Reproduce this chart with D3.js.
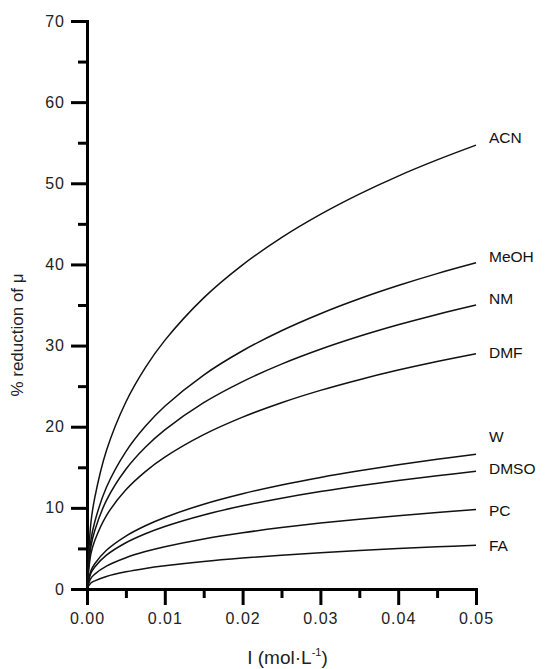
<!DOCTYPE html>
<html lang="en">
<head>
  <meta charset="UTF-8">
  <title>% reduction of mobility vs ionic strength</title>
  <script src="https://d3js.org/d3.v7.min.js"></script>
  <style>
    body {
      margin: 0;
      background: #fff;
      font-family: 'Liberation Sans', Arial, sans-serif;
    }
    .axis path, .axis line {
      stroke: #000;
      stroke-width: 3px;
    }
    .axis text {
      font-size: 16px;
      letter-spacing: 1px;
      fill: #222;
      font-family: 'Liberation Sans', Arial, sans-serif;
    }
    .curve {
      fill: none;
      stroke: #111;
      stroke-width: 1.5px;
    }
    .solvent {
      font-size: 15.5px;
      fill: #111;
    }
  </style>
</head>
<body>
<div id="chart"></div>
<script>
  // ionic strength (mol/L) at which each curve was read
  const ionic = [0, 0.0005, 0.001, 0.0025, 0.005, 0.0075, 0.01, 0.015, 0.02, 0.025, 0.03, 0.035, 0.04, 0.045, 0.05];

  const solvents = ['ACN', 'MeOH', 'NM', 'DMF', 'W', 'DMSO', 'PC', 'FA'];

  const acn  = [0, 8.14, 11.26, 17.07, 23.05, 27.28, 30.64, 35.88, 39.95, 43.31, 46.17, 48.67, 50.89, 52.88, 54.7];
  const meoh = [0, 5.99, 8.28, 12.54, 16.94, 20.05, 22.52, 26.37, 29.36, 31.83, 33.93, 35.77, 37.40, 38.87, 40.2];
  const nm   = [0, 5.21, 7.21, 10.92, 14.75, 17.46, 19.61, 22.96, 25.56, 27.71, 29.54, 31.14, 32.56, 33.84, 35.0];
  const dmf  = [0, 4.32, 5.97, 9.05, 12.22, 14.47, 16.25, 19.02, 21.18, 22.96, 24.48, 25.80, 26.98, 28.04, 29.0];
  const w    = [0, 2.24, 3.11, 4.78, 6.53, 7.80, 8.82, 10.45, 11.74, 12.82, 13.75, 14.57, 15.31, 15.98, 16.6];
  const dmso = [0, 1.95, 2.72, 4.17, 5.70, 6.81, 7.71, 9.13, 10.25, 11.19, 12.01, 12.73, 13.37, 13.96, 14.5];
  const pc   = [0, 1.32, 1.84, 2.82, 3.86, 4.61, 5.21, 6.17, 6.93, 7.57, 8.12, 8.60, 9.04, 9.44, 9.8];
  const fa   = [0, 0.73, 1.01, 1.55, 2.12, 2.54, 2.87, 3.40, 3.82, 4.17, 4.47, 4.74, 4.98, 5.20, 5.4];

  // where each solvent name sits, in % units
  const labelAt = [55.6, 41.0, 35.8, 29.2, 18.8, 14.9, 9.7, 5.4];

  const xTicks = [0, 0.01, 0.02, 0.03, 0.04, 0.05];
  const xMinor = [0.005, 0.015, 0.025, 0.035, 0.045];
  const yTicks = [0, 10, 20, 30, 40, 50, 60, 70];
  const yMinor = [5, 15, 25, 35, 45, 55, 65];

  const series = [acn, meoh, nm, dmf, w, dmso, pc, fa];

  const W = 552, H = 669;
  const margin = { top: 21, right: 76, bottom: 80, left: 87 };
  const width = W - margin.left - margin.right;
  const height = H - margin.top - margin.bottom;

  const x = d3.scaleLinear().domain([0, 0.05]).range([0, width]);
  const y = d3.scaleLinear().domain([0, 70]).range([height, 0]);

  const svg = d3.select('#chart')
    .append('svg')
    .attr('width', W)
    .attr('height', H)
    .append('g')
    .attr('transform', 'translate(' + margin.left + ',' + margin.top + ')');

  // minor ticks first, no labels
  svg.append('g')
    .attr('class', 'axis')
    .attr('transform', 'translate(0,' + height + ')')
    .call(d3.axisBottom(x).tickValues(xMinor).tickSize(9).tickSizeOuter(0).tickFormat(''))
    .select('.domain').remove();

  svg.append('g')
    .attr('class', 'axis')
    .call(d3.axisLeft(y).tickValues(yMinor).tickSize(9).tickSizeOuter(0).tickFormat(''))
    .select('.domain').remove();

  svg.append('g')
    .attr('class', 'axis')
    .attr('transform', 'translate(0,' + height + ')')
    .call(d3.axisBottom(x).tickValues(xTicks).tickSize(16).tickSizeOuter(0)
      .tickPadding(8).tickFormat(d3.format('.2f')));

  svg.append('g')
    .attr('class', 'axis')
    .call(d3.axisLeft(y).tickValues(yTicks).tickSize(16).tickSizeOuter(0).tickPadding(6));

  svg.selectAll('.axis path').attr('stroke-linecap', 'square');

  const line = d3.line()
    .x((d, i) => x(ionic[i]))
    .y(d => y(d))
    .curve(d3.curveCatmullRom.alpha(0.5));

  svg.selectAll('.curve')
    .data(series)
    .enter().append('path')
    .attr('class', 'curve')
    .attr('d', line);

  svg.selectAll('.solvent')
    .data(solvents)
    .enter().append('text')
    .attr('class', 'solvent')
    .attr('x', width + 13)
    .attr('y', (d, i) => y(labelAt[i]))
    .attr('dy', '0.36em')
    .text(d => d);

  // axis titles
  const xt = svg.append('text')
    .attr('x', width / 2 + 6)
    .attr('y', height + 75)
    .attr('text-anchor', 'middle')
    .style('font-size', '19px')
    .style('fill', '#222');
  xt.append('tspan').text('I (mol\u00B7L');
  xt.append('tspan').attr('dy', -8).style('font-size', '11px').text('-1');
  xt.append('tspan').attr('dy', 8).text(')');

  svg.append('text')
    .attr('transform', 'rotate(-90)')
    .attr('x', -(y(31.3)))
    .attr('y', -margin.left + 23)
    .attr('text-anchor', 'middle')
    .style('font-size', '17px')
    .style('fill', '#222')
    .text('% reduction of \u03BC');
</script>
</body>
</html>
